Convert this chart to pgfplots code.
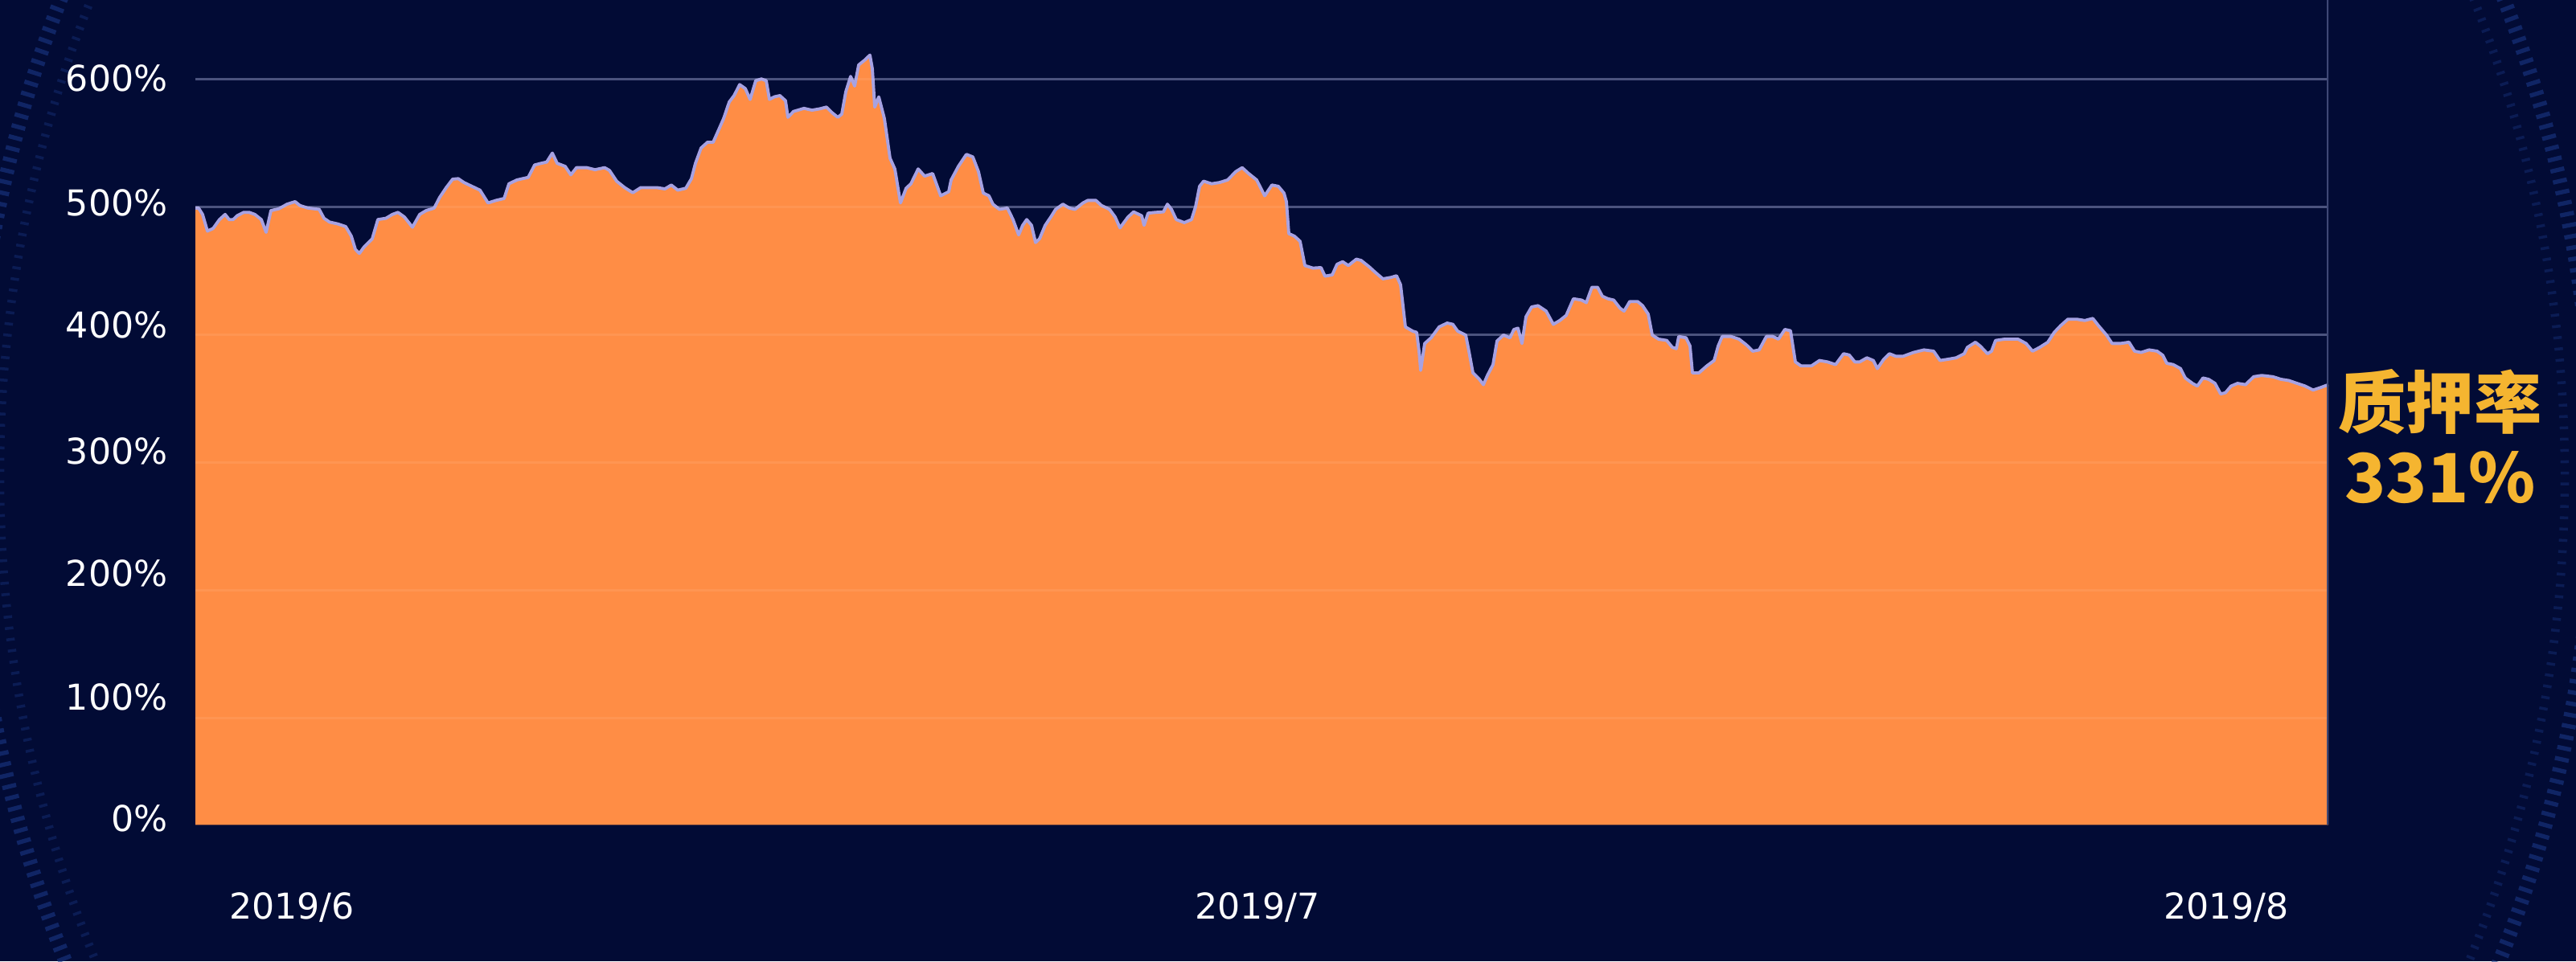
\documentclass[border=0pt]{standalone}
\usepackage{pgfplots}
\pgfplotsset{compat=1.18}
\usepackage{pgfplotstable}
\usepackage{fontspec}
\setmainfont{DejaVu Sans}
\newfontfamily\cjk{Noto Sans CJK SC}
\definecolor{bgc}{HTML}{020B35}
\definecolor{orangec}{HTML}{FF8D45}
\definecolor{lav}{HTML}{A7A2E2}
\definecolor{gridc}{HTML}{3E4775}
\definecolor{gold}{HTML}{F5B530}
\definecolor{ring}{HTML}{1C3C8E}

\pgfplotstableread{
x v
243 499
247 499
252 494
258 481
265 483
273 490
280 494
285 490
290 490
295 493
303 495.6
310 495.6
317 494
325 490
331 480
337 497
347 498.5
357 502
367 504
373 501
383 499
397 498
403 491
410 488
420 486.6
430 484.5
437 477
442 466.7
447 463.5
453 468.7
463 475
470 490
480 491
488 494
495 495.6
503 492
513 484
522 494
530 497
540 499
547 507.5
555 515
563 521.6
570 522
577 519
587 516
597 513
607 503
617 505
627 506.5
633 518
643 521
657 523
665 532.7
673 534
680 535
687 542
693 534
703 531.6
710 525
717 530.6
730 530.6
740 529
752 530.6
758 528.5
767 520
777 515
787 511
797 515
807 515
817 515
827 514
835 517
843 513
853 514.5
860 522
865 534
872 546
880 550.5
887 550.5
893 559
900 569
907 582
913 587
920 595.6
927 592.5
933 584
940 598.7
947 600
953 598.7
957 584
963 586
970 587
977 583
980 570
987 574.6
1000 577
1010 575.6
1020 576.7
1028 578
1035 573.6
1042 570
1047 572.5
1052 590
1058 602
1063 594.5
1068 611
1075 614.5
1082 618.7
1085 608
1088 578
1093 586
1100 569
1107 538
1113 529.6
1120 503
1127 514.5
1133 518
1142 529.6
1150 524
1160 526
1170 508.6
1180 511.8
1183 521
1192 531.6
1202 541
1210 539
1217 527.5
1223 510.7
1230 508.6
1235 502
1243 498
1253 499
1260 490
1267 478
1272 485.5
1277 490
1283 485.5
1288 472
1293 475
1300 485.5
1307 492
1313 498
1322 502
1330 499
1337 498
1347 503
1353 505
1363 505
1370 501
1380 498
1387 492
1393 483.5
1403 492
1410 496
1420 493
1423 485.5
1428 495
1437 495.6
1447 496
1452 502
1457 498
1463 490
1473 487.6
1482 490
1487 500
1492 516
1497 520
1507 518
1517 519
1527 521
1537 527.5
1545 530.6
1553 526
1563 521
1567 516
1573 508.6
1582 517
1590 516
1597 510.7
1600 504
1603 479
1610 477
1617 473
1623 454
1633 452
1643 452.4
1648 445.7
1657 446.7
1663 455
1670 457
1677 454
1687 459
1693 458
1703 453
1710 449
1720 443.6
1730 444.7
1737 446
1742 439
1745 422.6
1748 406
1757 402.7
1762 401.7
1765 387
1767 372
1772 393
1780 397.5
1790 406
1800 409
1807 408
1813 402.7
1823 399.6
1827 387
1832 370
1840 365
1845 360.8
1850 368
1857 376.5
1862 395
1870 399.6
1878 397.5
1883 404
1888 405
1893 393
1898 414
1905 421.6
1913 422.6
1923 418.4
1932 408
1940 411
1948 415
1957 428
1967 427
1973 425
1980 437
1987 437
1993 430
2000 428
2007 427
2015 420.6
2020 418.4
2027 425.8
2037 425.8
2043 422.6
2050 416
2055 399.6
2063 396.4
2073 395.4
2080 390
2085 389
2088 398.5
2097 397.5
2102 391
2105 370
2113 370
2123 375.5
2132 379.7
2137 391
2142 398.5
2153 398.5
2163 396.4
2172 392
2180 387
2188 388
2197 398.5
2205 398.5
2212 396.4
2220 404
2227 403
2233 378.6
2240 375.5
2253 375.5
2263 379.7
2273 378.6
2283 376.5
2293 385
2300 384
2307 378.6
2313 378.6
2322 381.8
2330 379.7
2335 373.4
2343 380.7
2350 385
2358 383
2367 383
2380 386
2393 388
2405 387
2413 379.7
2423 380.7
2433 381.8
2443 385
2447 390
2457 394
2463 391
2472 385
2477 387
2482 395.4
2493 396.4
2510 396.4
2520 393
2528 387
2537 390
2547 394
2555 401.7
2563 407
2572 412
2583 412
2593 411
2603 412.6
2610 407
2620 399.6
2627 393
2637 393
2648 394
2655 387
2663 386
2673 388
2683 387
2690 383.8
2695 377.5
2703 376.5
2712 373.4
2718 366
2727 361.8
2733 359.7
2740 366
2747 365
2755 361.8
2762 353.5
2768 354.5
2775 359.7
2783 361.8
2793 360.8
2803 367
2813 368
2827 367
2837 365
2847 364
2857 361.8
2867 359.7
2877 356.6
2887 358.7
2896 360.8
}\ratedata

\begin{document}
\begin{tikzpicture}
\fill[bgc] (0,0) rectangle (32.04cm,11.96cm);
\begin{scope}
\clip (0,0) rectangle (32.04cm,11.96cm);
\draw[ring, opacity=0.55, line width=5pt, dash pattern=on 1.5pt off 2.5pt] (15.95cm,6.06cm) circle (16.3cm);
\draw[ring, opacity=0.35, line width=3pt, dash pattern=on 1pt off 3pt] (15.95cm,6.06cm) circle (15.95cm);
\end{scope}
\begin{axis}[
  at={(2.43cm,1.70cm)}, anchor=south west,
  scale only axis, width=26.53cm, height=10.26cm,
  xmin=243, xmax=2896, ymin=16.35, ymax=661.6,
  axis line style={draw=none},
  major tick length=0pt,
  xtick={363,1564,2769},
  xticklabels={2019/6,2019/7,2019/8},
  ytick={21.4,116.4,213.2,308.8,407.5,503.1,600.6},
  yticklabels={0\%,100\%,200\%,300\%,400\%,500\%,600\%},
  extra y ticks={100,200,300,400,500,600},
  extra y tick labels={},
  extra y tick style={grid=major, major grid style={gridc, line width=1pt}},
  ticklabel style={font=\fontsize{12.6}{14}\selectfont, text=white},
  yticklabel style={anchor=east, xshift=-0.22cm},
  xticklabel style={anchor=north, yshift=-0.72cm},
  clip=true,
]
\addplot[fill=orangec, draw=none] table[x=x, y=v] {\ratedata} \closedcycle;
\addplot[lav, line width=1.1pt, line join=round] table[x=x, y=v] {\ratedata};
\pgfplotsinvokeforeach{100,200,300,400,500,600}{
  \draw[white, opacity=0.07, line width=1pt] (axis cs:243,#1) -- (axis cs:2896,#1);
}
\draw[gridc, line width=1pt] (axis cs:2896,16.35) -- (axis cs:2896,661.6);
\end{axis}
\node[text=gold, font=\cjk\bfseries\fontsize{24}{26}\selectfont] at (30.35cm,6.96cm) {质押率};
\node[text=gold, font=\cjk\bfseries\fontsize{24}{26}\selectfont] at (30.35cm,6.02cm) {331\%};
\end{tikzpicture}
\end{document}
